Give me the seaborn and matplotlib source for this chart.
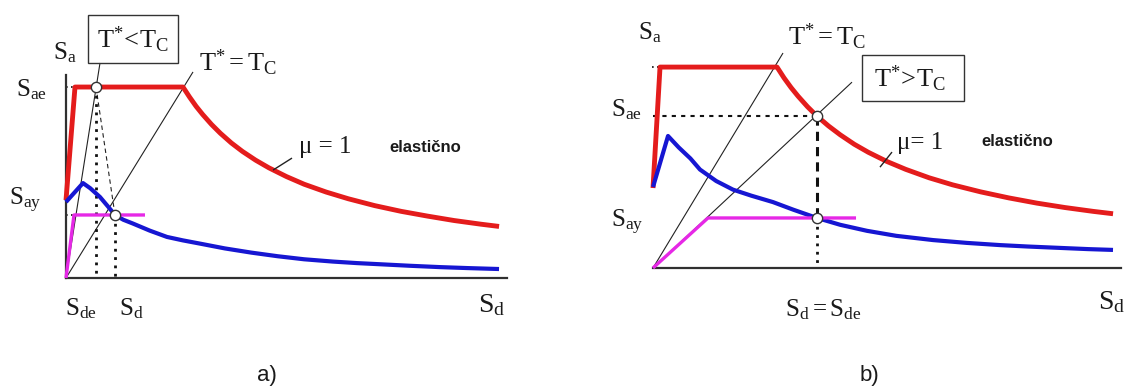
import numpy as np
import pandas as pd
import matplotlib
matplotlib.use("Agg")
import matplotlib.pyplot as plt
import seaborn as sns
from matplotlib.patches import Rectangle

sns.set_theme(style="white")
plt.rcParams["font.family"] = ["Liberation Serif", "DejaVu Serif"]
plt.rcParams["mathtext.fontset"] = "custom"
plt.rcParams["mathtext.rm"] = "Liberation Serif"
plt.rcParams["mathtext.it"] = "Liberation Serif:italic"
plt.rcParams["mathtext.bf"] = "Liberation Serif:bold"

# ---------------- data: panel a (x: Sd, y: Sa, Sae = 1) ----------------
a_red_x = [0.0, 0.204, 2.653, 2.8, 2.95, 3.1, 3.3, 3.5, 3.75, 4.0, 4.3, 4.6, 5.0, 5.4,
           5.9, 6.4, 7.0, 7.6, 8.2, 8.8, 9.4, 9.82]
a_red_y = [0.408, 1.0, 1.0, 0.948, 0.899, 0.856, 0.804, 0.758, 0.707, 0.663, 0.617, 0.577,
           0.531, 0.491, 0.450, 0.415, 0.379, 0.349, 0.324, 0.301, 0.282, 0.270]
a_blue_x = [0.0, 0.385, 0.55, 0.771, 0.95, 1.111, 1.3, 1.519, 1.9, 2.29, 2.65, 3.039, 3.6,
            4.2, 4.8, 5.4, 6.054, 6.6, 7.12, 7.8, 8.48, 9.1, 9.819]
a_blue_y = [0.398, 0.497, 0.470, 0.424, 0.375, 0.330, 0.305, 0.285, 0.248, 0.215, 0.197,
            0.180, 0.155, 0.133, 0.114, 0.098, 0.086, 0.078, 0.072, 0.064, 0.057, 0.052, 0.047]
a_mag_x = [0.0, 0.181, 1.791]
a_mag_y = [0.0, 0.330, 0.330]
a_teq_x = [0.0, 2.880]
a_teq_y = [0.0, 1.079]
a_tlt_x = [0.0, 0.771]
a_tlt_y = [0.0, 1.126]
a_pts_x = [0.680, 1.111]
a_pts_y = [1.0, 0.330]
a_mu_x = [4.694, 5.125]
a_mu_y = [0.565, 0.628]

# ---------------- data: panel b ----------------
b_red_x = [0.0, 0.150, 2.650, 2.8, 2.95, 3.1, 3.3, 3.504, 3.75, 4.0, 4.3, 4.6, 5.0, 5.4,
           5.9, 6.4, 7.0, 7.6, 8.2, 8.8, 9.4, 9.83]
b_red_y = [0.398, 1.0, 1.0, 0.946, 0.898, 0.855, 0.803, 0.756, 0.707, 0.663, 0.616, 0.576,
           0.530, 0.491, 0.449, 0.414, 0.379, 0.349, 0.323, 0.301, 0.282, 0.270]
b_blue_x = [0.0, 0.321, 0.55, 0.8, 1.004, 1.35, 1.709, 2.1, 2.564, 3.0, 3.504, 4.0, 4.573,
            5.2, 5.983, 6.7, 7.415, 8.0, 8.697, 9.3, 9.829]
b_blue_y = [0.403, 0.657, 0.600, 0.545, 0.490, 0.433, 0.390, 0.360, 0.328, 0.290, 0.249,
            0.215, 0.185, 0.160, 0.139, 0.125, 0.114, 0.107, 0.100, 0.094, 0.090]
b_mag_x = [0.0, 1.175, 4.338]
b_mag_y = [0.0, 0.249, 0.249]
b_teq_x = [0.0, 2.778]
b_teq_y = [0.0, 1.070]
b_tgt_x = [0.0, 4.252]
b_tgt_y = [0.0, 0.925]
b_pts_x = [3.504, 3.504]
b_pts_y = [0.756, 0.249]
b_mu_x = [4.850, 5.107]
b_mu_y = [0.502, 0.577]

RED = "#e41c1c"
BLUE = "#1616d2"
MAG = "#e628e6"
DARK = "#303030"

W, H = 1131, 388
fig = plt.figure(figsize=(W / 100, H / 100), dpi=100)


def fx(px):
    return px / W


def fy(py):
    return 1 - py / H


def curve(ax, x, y, color, lw, ls="-", z=2):
    sns.lineplot(x=x, y=y, ax=ax, sort=False, estimator=None, color=color,
                 linewidth=lw, linestyle=ls, clip_on=False, zorder=z, legend=False,
                 solid_joinstyle="round", solid_capstyle="butt")


# ---------------- panel a ----------------
axa = fig.add_axes([fx(66), fy(278), (507 - 66) / W, (278 - 75) / H])
axa.set_xlim(0, 10)
axa.set_ylim(0, 1.063)
curve(axa, a_teq_x, a_teq_y, "#222222", 0.8)
curve(axa, a_tlt_x, a_tlt_y, "#222222", 0.8)
curve(axa, [a_pts_x[0], a_pts_x[1]], [a_pts_y[0], a_pts_y[1]], "#222222", 0.8, ls=(0, (4, 3)))
curve(axa, [a_pts_x[0], a_pts_x[0]], [a_pts_y[0], 0], "#111111", 2.0, ls=(0, (1, 2)))
curve(axa, [a_pts_x[1], a_pts_x[1]], [a_pts_y[1], 0], "#111111", 2.0, ls=(0, (1, 2)))
curve(axa, [0, a_red_x[1]], [1.0, 1.0], "#111111", 1.2, ls=(0, (1, 2)))
curve(axa, [0, a_mag_x[1]], [a_mag_y[1], a_mag_y[1]], "#111111", 1.2, ls=(0, (1, 2)))
curve(axa, a_red_x, a_red_y, RED, 3.5, z=3)
curve(axa, a_blue_x, a_blue_y, BLUE, 3.0, z=3)
curve(axa, a_mag_x, a_mag_y, MAG, 2.4, z=3)
curve(axa, a_mu_x, a_mu_y, "#222222", 1.0, z=4)
sns.scatterplot(x=a_pts_x, y=a_pts_y, ax=axa, s=55, color="white",
                edgecolor="#333333", linewidth=1.0, zorder=6, clip_on=False, legend=False)
for s in ["top", "right"]:
    axa.spines[s].set_visible(False)
for s in ["left", "bottom"]:
    axa.spines[s].set_color(DARK)
    axa.spines[s].set_linewidth(1.6)
axa.set_xticks([])
axa.set_yticks([])
axa.patch.set_alpha(0)

# ---------------- panel b ----------------
axb = fig.add_axes([fx(653), fy(268), (1121 - 653) / W, (268 - 50) / H])
axb.set_xlim(0, 10)
axb.set_ylim(0, 1.085)
curve(axb, b_teq_x, b_teq_y, "#222222", 0.8)
curve(axb, b_tgt_x, b_tgt_y, "#222222", 0.8)
curve(axb, [0, b_pts_x[0]], [b_pts_y[0], b_pts_y[0]], "#111111", 1.5, ls=(0, (2, 2.5)))
curve(axb, [b_pts_x[0], b_pts_x[1]], [b_pts_y[0], b_pts_y[1]], "#111111", 2.2, ls=(0, (3, 2)))
curve(axb, [b_pts_x[1], b_pts_x[1]], [b_pts_y[1], 0], "#111111", 2.0, ls=(0, (1, 2)))
curve(axb, [-0.03, b_red_x[1]], [1.0, 1.0], "#111111", 1.2, ls=(0, (1, 2)))
curve(axb, b_red_x, b_red_y, RED, 3.5, z=3)
curve(axb, b_blue_x, b_blue_y, BLUE, 3.0, z=3)
curve(axb, b_mag_x, b_mag_y, MAG, 2.4, z=3)
curve(axb, b_mu_x, b_mu_y, "#222222", 1.0, z=4)
sns.scatterplot(x=b_pts_x, y=b_pts_y, ax=axb, s=55, color="white",
                edgecolor="#333333", linewidth=1.0, zorder=6, clip_on=False, legend=False)
for s in ["top", "right", "left"]:
    axb.spines[s].set_visible(False)
axb.spines["bottom"].set_color(DARK)
axb.spines["bottom"].set_linewidth(1.6)
axb.set_xticks([])
axb.set_yticks([])
axb.patch.set_alpha(0)

# ---------------- text ----------------
SFS = 18
TFS = 19


def t(px, py, s, size=SFS, **kw):
    fig.text(fx(px), fy(py), s, ha="center", va="center", fontsize=size,
             color="#1a1a1a", **kw)


# panel a
t(65, 53, r"$\mathrm{S_a}$")
t(32, 90, r"$\mathrm{S_{ae}}$")
t(25, 200, r"$\mathrm{S_{ay}}$")
t(81, 309, r"$\mathrm{S_{de}}$")
t(131, 309, r"$\mathrm{S_d}$")
t(492, 305, r"$\mathrm{S_d}$", size=20)
t(133, 40, r"$\mathrm{T^{*}\!<\!T_C}$", size=TFS)
t(238, 63, r"$\mathrm{T^{*}=T_C}$", size=TFS)
t(325, 147, "μ = 1", size=18)
t(425, 147, "elastično", size=12, family=["Liberation Sans", "DejaVu Sans"], weight="bold")
t(267, 376, "a)", size=16, family=["Liberation Sans", "DejaVu Sans"])
fig.patches.append(Rectangle((fx(88), fy(63)), (178 - 88) / W, (63 - 15) / H,
                             transform=fig.transFigure, fill=False,
                             edgecolor="#333333", linewidth=1.0))

# panel b
t(650, 33, r"$\mathrm{S_a}$")
t(627, 110, r"$\mathrm{S_{ae}}$")
t(627, 222, r"$\mathrm{S_{ay}}$")
t(823, 310, r"$\mathrm{S_d = S_{de}}$")
t(1112, 302, r"$\mathrm{S_d}$", size=20)
t(827, 37, r"$\mathrm{T^{*}=T_C}$", size=TFS)
t(910, 79, r"$\mathrm{T^{*}\!>\!T_C}$", size=TFS)
t(920, 143, "μ= 1", size=18)
t(1017, 142, "elastično", size=12, family=["Liberation Sans", "DejaVu Sans"], weight="bold")
t(869, 375, "b)", size=16, family=["Liberation Sans", "DejaVu Sans"])
fig.patches.append(Rectangle((fx(862), fy(101)), (964 - 862) / W, (101 - 55) / H,
                             transform=fig.transFigure, fill=False,
                             edgecolor="#333333", linewidth=1.0))

fig.savefig("out.png", dpi=100, facecolor="white")
